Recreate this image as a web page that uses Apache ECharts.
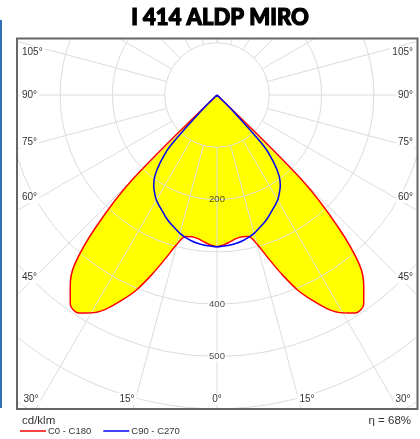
<!DOCTYPE html>
<html><head><meta charset="utf-8">
<script src="https://cdn.jsdelivr.net/npm/echarts@6/dist/echarts.min.js"></script>
<style>html,body{margin:0;padding:0;background:#fff}#c{width:420px;height:439px}</style>
</head><body><div id="c"></div>
<script>
// ---- data ----
const chartTitle = 'I 414 ALDP MIRO';
const unitLabel = 'cd/klm';
const effLabel = '\u03B7 = 68%';
const seriesNames = ['C0 - C180', 'C90 - C270'];
const gammaDeg = [0, 2.5, 5, 7.5, 10, 12.5, 15, 17.5, 20, 22.5, 25, 27.5, 30, 32.5, 35, 37.5, 40, 42.5, 45, 47.5];
const c0   = [290, 287, 282, 277, 275, 277, 295, 328, 366, 404, 434, 462, 481, 494, 489, 461, 424, 343, 228, 0];
const c180 = [290, 287, 282, 277, 275, 277, 295, 328, 366, 404, 434, 462, 481, 494, 489, 461, 424, 343, 228, 0];
const c90  = [290, 289, 288, 286, 283, 279, 274, 267, 261, 254, 246, 239, 232, 222, 211, 195, 169, 134, 40, 0];
const c270 = [290, 289, 288, 286, 283, 279, 274, 267, 261, 254, 246, 239, 232, 222, 211, 195, 169, 134, 40, 0];
const ringValues = [100, 200, 300, 400, 500, 600, 700, 800];
const ringLabelValues = [200, 400, 500];
const radialAngles = [-180,-165,-150,-135,-120,-105,-90,-75,-60,-45,-30,-15,0,15,30,45,60,75,90,105,120,135,150,165,180];
const sideAngleLabels = ['105°', '90°', '75°', '60°', '45°'];
const bottomAngleLabels = ['30°', '15°', '0°', '15°', '30°'];

// ---- layout ----
const CX = 217, CY = 95, PX_PER_UNIT = 0.523, RMAX = 800;
const BOX = {x: 17, y: 38.5, w: 400.5, h: 370.5};
const sideLabelY = [52, 95, 142, 197, 277];
const bottomLabelX = [31, 127, 217, 307, 403];
const FONT = 'Liberation Sans';
const SMOOTH = 0.3;

function curve(left, right) {
  const d = [];
  for (let i = gammaDeg.length - 1; i >= 1; i--) d.push([left[i], -gammaDeg[i]]);
  for (let i = 0; i < gammaDeg.length; i++) d.push([right[i], gammaDeg[i]]);
  return d;
}
const redData = curve(c180, c0);
const blueData = curve(c270, c90);

const series = [];
series.push({type: 'line', name: 'fill', coordinateSystem: 'polar', data: redData, symbol: 'none', silent: true, smooth: SMOOTH,
  lineStyle: {width: 0, opacity: 0}, areaStyle: {color: '#ffff00', opacity: 1}, z: 1});
radialAngles.forEach(a => series.push({type: 'line', coordinateSystem: 'polar', symbol: 'none', silent: true,
  data: [[ringValues[0], a], [RMAX, a]], lineStyle: {color: '#dcdcdc', width: 1}, z: 3}));
series.push({type: 'line', name: seriesNames[0], coordinateSystem: 'polar', data: redData, symbol: 'none', smooth: SMOOTH,
  lineStyle: {color: '#ff0000', width: 1.5}, itemStyle: {color: '#ff0000'}, z: 6});
series.push({type: 'line', name: seriesNames[1], coordinateSystem: 'polar', data: blueData, symbol: 'none', smooth: SMOOTH,
  lineStyle: {color: '#0000ff', width: 1.5}, itemStyle: {color: '#0000ff'}, z: 6});
series.push({type: 'scatter', coordinateSystem: 'polar', symbolSize: 0, silent: true, z: 7,
  data: ringLabelValues.map(v => ({value: [v, 0], label: {backgroundColor: v === 200 ? 'transparent' : '#fff'}})),
  label: {show: true, position: 'inside', formatter: p => String(p.value[0]), color: '#222', fontSize: 9.5, fontFamily: FONT, padding: [0, 1]}});

const graphics = [];
graphics.push({type: 'rect', shape: {x: 0, y: 0, width: 420, height: BOX.y}, style: {fill: '#fff'}, z: 100, silent: true});
graphics.push({type: 'rect', shape: {x: 0, y: BOX.y + BOX.h, width: 420, height: 439}, style: {fill: '#fff'}, z: 100, silent: true});
graphics.push({type: 'rect', shape: {x: 0, y: 0, width: BOX.x, height: 439}, style: {fill: '#fff'}, z: 100, silent: true});
graphics.push({type: 'rect', shape: {x: BOX.x + BOX.w, y: 0, width: 20, height: 439}, style: {fill: '#fff'}, z: 100, silent: true});
graphics.push({type: 'rect', shape: {x: BOX.x, y: BOX.y, width: BOX.w, height: BOX.h}, style: {fill: 'none', stroke: '#666', lineWidth: 2}, z: 150, silent: true});
graphics.push({type: 'rect', shape: {x: 0, y: 20, width: 2, height: 388}, style: {fill: '#2f6fb5'}, z: 160, silent: true});
const lblStyle = {fill: '#333', fontSize: 10, fontFamily: FONT, backgroundColor: '#fff', padding: [1, 2]};
sideAngleLabels.forEach((t, i) => {
  graphics.push({type: 'text', x: 20, y: sideLabelY[i], z: 120, style: Object.assign({}, lblStyle, {text: t, textAlign: 'left', textVerticalAlign: 'middle'})});
  graphics.push({type: 'text', x: 415, y: sideLabelY[i], z: 120, style: Object.assign({}, lblStyle, {text: t, textAlign: 'right', textVerticalAlign: 'middle'})});
});
bottomAngleLabels.forEach((t, i) => {
  graphics.push({type: 'text', x: bottomLabelX[i], y: 399, z: 120, style: Object.assign({}, lblStyle, {text: t, textAlign: 'center', textVerticalAlign: 'middle'})});
});
graphics.push({type: 'text', x: 220, y: 18, z: 200, style: {text: chartTitle, fill: '#000', stroke: '#000', lineWidth: 1.2, fontSize: 22, fontWeight: 900, fontFamily: 'Lato', textAlign: 'center', textVerticalAlign: 'middle'}});
graphics.push({type: 'text', x: 22, y: 421, z: 200, style: {text: unitLabel, fill: '#333', fontSize: 11.5, fontFamily: FONT, textAlign: 'left', textVerticalAlign: 'middle'}});
graphics.push({type: 'text', x: 411, y: 421, z: 200, style: {text: effLabel, fill: '#333', fontSize: 11.5, fontFamily: FONT, textAlign: 'right', textVerticalAlign: 'middle'}});

const chart = echarts.init(document.getElementById('c'), null, {renderer: 'canvas'});
chart.setOption({
  animation: false,
  backgroundColor: '#fff',
  polar: {center: [CX, CY], radius: [0, RMAX * PX_PER_UNIT]},
  angleAxis: {type: 'value', min: -180, max: 180, startAngle: 90, clockwise: false,
    axisLine: {show: false}, axisTick: {show: false}, axisLabel: {show: false}, splitLine: {show: false}},
  radiusAxis: {type: 'value', min: 0, max: RMAX, interval: 100, z: 4,
    axisLine: {show: false}, axisTick: {show: false}, axisLabel: {show: false},
    splitLine: {show: true, lineStyle: {color: '#dcdcdc', width: 1}}},
  legend: {data: seriesNames, left: 20, top: 426, icon: 'rect', itemWidth: 26, itemHeight: 1.5, itemGap: 12, z: 200, padding: 0,
    textStyle: {fontSize: 9.5, fontFamily: FONT, color: '#333', padding: [0, 0, 0, -3]}},
  series: series,
  graphic: {elements: graphics}
});
</script></body></html>
